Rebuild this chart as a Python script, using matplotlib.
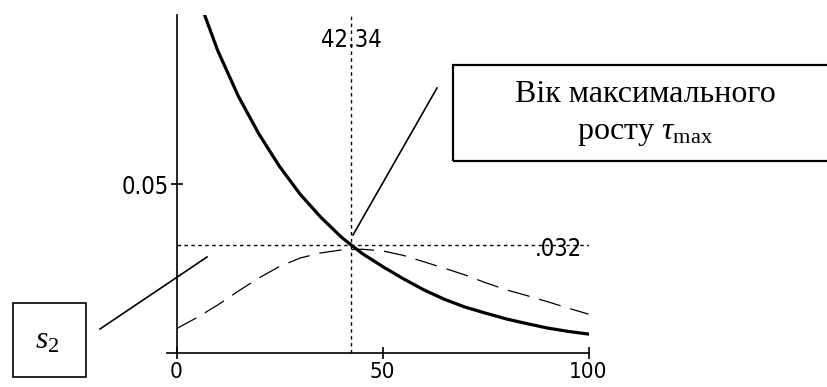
import matplotlib.pyplot as plt
from matplotlib.patches import Rectangle
from matplotlib.lines import Line2D

plt.rcParams['mathtext.fontset'] = 'custom'
plt.rcParams['mathtext.rm'] = 'Liberation Serif'
plt.rcParams['mathtext.it'] = 'Liberation Serif:italic'

# age, years
age = [5, 10, 15, 20, 25, 30, 35, 40, 42.34, 45, 50, 55, 60, 65, 70, 75, 80, 85, 90, 95, 100]
# relative growth rate (thick curve)
rel_rate = [0.106, 0.0895, 0.0760, 0.0648, 0.0552, 0.0470, 0.0402, 0.0343, 0.032, 0.0295, 0.0256,
            0.0220, 0.0187, 0.0159, 0.0136, 0.0118, 0.0101, 0.0087, 0.0074, 0.0064, 0.0056]

# growth s2 (dashed curve)
age_s2 = [0, 5, 10, 15, 20, 25, 30, 35, 40, 45, 50, 55, 60, 65, 70, 75, 80, 85, 90, 95, 100]
s2 = [0.0072, 0.0105, 0.0142, 0.0183, 0.0222, 0.0256, 0.0281, 0.0296, 0.0305, 0.0307, 0.0302,
      0.0289, 0.0270, 0.0251, 0.0231, 0.0208, 0.0187, 0.0170, 0.0152, 0.0133, 0.0115]

tau_max = 42.34
s_max = 0.032

W, H = 827, 387
fig = plt.figure(figsize=(W / 100, H / 100), dpi=100)
ax = fig.add_axes([176.5 / W, (H - 353) / H, 412 / W, 338 / H])

ax.plot(age, rel_rate, color='black', lw=2.3)
ax.plot(age_s2, s2, color='black', lw=0.9, dashes=(18, 8))

# marker lines
ax.axvline(tau_max, color='black', lw=1.0, dashes=(2.5, 2.5))
ax.axhline(s_max, color='black', lw=1.0, dashes=(2.5, 2.5))

ax.set_xlim(0, 100)
ax.set_ylim(0, 0.1)

for side in ['top', 'right']:
    ax.spines[side].set_visible(False)
for side in ['left', 'bottom']:
    ax.spines[side].set_linewidth(1.2)
ax.spines['bottom'].set_bounds(-2.2, 100)

num_font = dict(family='DejaVu Sans', stretch='condensed', size=17)

ax.set_xticks([0, 50, 100])
ax.set_xticklabels(['0', '50', '100'], fontdict=dict(num_font, size=16))
ax.set_yticks([0.05])
ax.set_yticklabels(['0.05'], fontdict=num_font)
ax.tick_params(direction='inout', length=9, width=1.2)
ax.tick_params(axis='x', pad=2)
ax.tick_params(axis='y', pad=1)

# marker value labels
ax.text(tau_max, 0.0925, '42.34', ha='center', va='center', fontdict=num_font)
ax.text(98.5, s_max - 0.0012, '.032', ha='right', va='center', fontdict=num_font)


def fx(px):
    return px / W


def fy(py):
    return (H - py) / H


# annotation boxes
fig.add_artist(Rectangle((fx(453), fy(161)), fx(900) - fx(453), fy(65) - fy(161),
                         transform=fig.transFigure, fill=False, lw=1.6, ec='black'))
fig.add_artist(Rectangle((fx(13), fy(377)), fx(86) - fx(13), fy(303) - fy(377),
                         transform=fig.transFigure, fill=False, lw=1.2, ec='black'))

fig.text(fx(645), fy(95), 'Вік максимального', ha='center', va='center',
         fontsize=23, family='Liberation Serif')
fig.text(fx(645), fy(134), r'росту $\tau_{\mathrm{max}}$', ha='center', va='center',
         fontsize=23, family='Liberation Serif')
fig.text(fx(47), fy(340), r'$s_2$', ha='center', va='center', fontsize=23)

# leader lines
fig.add_artist(Line2D([fx(353), fx(437)], [fy(235), fy(88)], transform=fig.transFigure,
                      color='black', lw=1.2))
fig.add_artist(Line2D([fx(100), fx(207)], [fy(329), fy(257)], transform=fig.transFigure,
                      color='black', lw=1.2))

fig.savefig('out.png', dpi=100)
